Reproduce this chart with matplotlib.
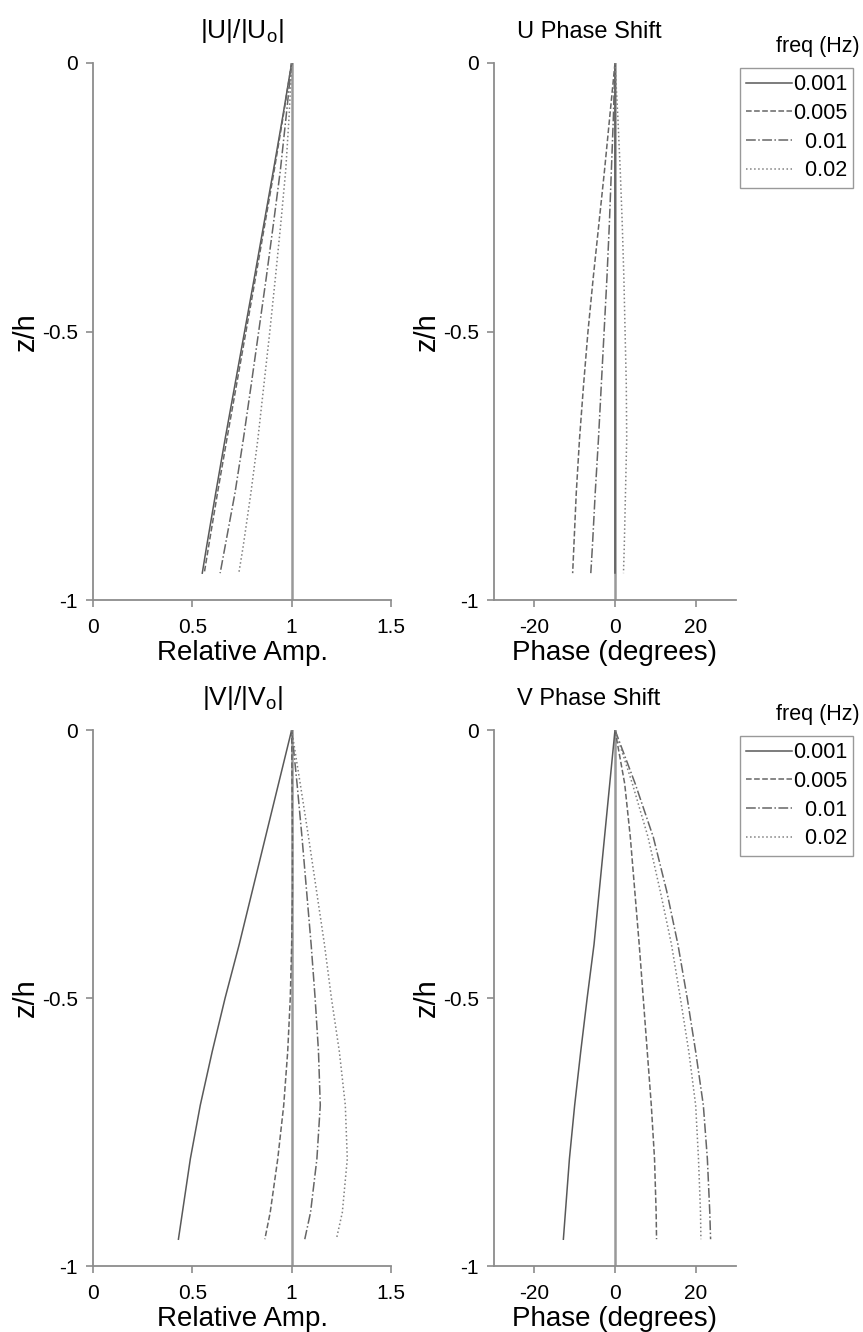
import matplotlib.pyplot as plt

plt.rcParams["font.family"] = ["Liberation Sans", "DejaVu Sans"]
plt.rcParams["mathtext.default"] = "regular"

freqs = ["0.001", "0.005", "0.01", "0.02"]
z_levels = [0.0, -0.1, -0.2, -0.3, -0.4, -0.5, -0.6, -0.7, -0.8, -0.9, -0.95]

# |U|/|Uo|, one row per frequency
u_amp = [
    [1.0, 0.955, 0.908, 0.860, 0.812, 0.763, 0.714, 0.665, 0.618, 0.572, 0.550],
    [1.0, 0.957, 0.912, 0.865, 0.818, 0.770, 0.722, 0.674, 0.627, 0.582, 0.560],
    [1.0, 0.972, 0.943, 0.908, 0.872, 0.834, 0.796, 0.757, 0.715, 0.665, 0.640],
    [1.0, 0.987, 0.970, 0.945, 0.918, 0.890, 0.860, 0.830, 0.795, 0.756, 0.734],
]
# U phase (degrees)
u_phase = [
    [0.0, 0.0, 0.0, 0.0, 0.0, 0.0, 0.0, 0.0, 0.0, 0.0, 0.0],
    [0.0, -1.3, -2.6, -4.0, -5.4, -6.7, -7.8, -8.8, -9.6, -10.2, -10.5],
    [0.0, -0.4, -0.9, -1.4, -2.0, -2.7, -3.4, -4.1, -4.9, -5.6, -6.0],
    [0.0, 0.7, 1.3, 1.8, 2.2, 2.5, 2.8, 2.9, 2.6, 2.3, 2.1],
]
# |V|/|Vo|
v_amp = [
    [1.0, 0.934, 0.868, 0.802, 0.736, 0.665, 0.600, 0.540, 0.490, 0.450, 0.430],
    [1.0, 1.002, 1.004, 1.004, 1.000, 0.993, 0.980, 0.960, 0.930, 0.892, 0.865],
    [1.0, 1.027, 1.052, 1.075, 1.098, 1.118, 1.135, 1.144, 1.127, 1.095, 1.066],
    [1.0, 1.043, 1.085, 1.125, 1.165, 1.200, 1.240, 1.270, 1.280, 1.255, 1.225],
]
# V phase (degrees)
v_phase = [
    [0.0, -1.3, -2.6, -3.9, -5.2, -6.9, -8.5, -10.0, -11.3, -12.3, -12.8],
    [0.0, 2.4, 3.8, 4.9, 6.0, 7.0, 8.0, 9.0, 9.8, 10.2, 10.3],
    [0.0, 5.0, 9.5, 12.8, 15.6, 17.9, 20.0, 21.9, 22.9, 23.5, 23.7],
    [0.0, 4.3, 8.2, 11.2, 14.0, 16.2, 18.3, 20.0, 20.7, 21.2, 21.3],
]

styles = ["-", "--", "-.", ":"]
colors = ["0.35", "0.4", "0.4", "0.5"]
GREY = "0.55"
W, H = 863, 1332


def style_axes(ax, xlim, xticks, xlabels, xlabel):
    ax.set_xlim(xlim)
    ax.set_ylim(-1, 0)
    ax.set_xticks(xticks)
    ax.set_xticklabels(xlabels)
    ax.set_yticks([0, -0.5, -1])
    ax.set_yticklabels(["0", "-0.5", "-1"])
    for side in ["top", "right"]:
        ax.spines[side].set_visible(False)
    for side in ["left", "bottom"]:
        ax.spines[side].set_color(GREY)
        ax.spines[side].set_linewidth(1.3)
    ax.tick_params(direction="out", length=5, width=1.2, color=GREY,
                   labelsize=15, pad=6)
    ax.tick_params(axis="x", pad=8)
    ax.set_xlabel(xlabel, fontsize=20, labelpad=2)
    ax.set_ylabel("z/h", fontsize=21, labelpad=1)


def make_plot(ax, data, ref, title, title_x, title_size):
    ax.plot([ref, ref], [0, -1], color="0.6", lw=1.8, zorder=1)
    lines = []
    for vals, ls, c, lab in zip(data, styles, colors, freqs):
        ln, = ax.plot(vals, z_levels, ls=ls, color=c, lw=1.1,
                      label=lab.rjust(5, "\u2007"), zorder=2)
        lines.append(ln)
    ax.set_title(title, fontsize=title_size, x=title_x, pad=18)
    return lines


def add_legend(fig, lines, top_px):
    fig.text(818 / W, 1 - (top_px - 16) / H, "freq (Hz)", fontsize=15.5,
             ha="center", va="baseline")
    leg = fig.legend(handles=lines, loc="upper left",
                     bbox_to_anchor=(740 / W, 1 - top_px / H),
                     borderaxespad=0, fontsize=15.5, frameon=True,
                     fancybox=False, handlelength=2.1, handletextpad=0.05,
                     labelspacing=0.35, borderpad=0.3)
    leg.get_frame().set_edgecolor("0.5")
    leg.get_frame().set_linewidth(1.0)


def main():
    fig = plt.figure(figsize=(W / 100, H / 100), dpi=100)

    def box(l, r, t, b):
        return [l / W, 1 - b / H, (r - l) / W, (b - t) / H]

    ax1 = fig.add_axes(box(93, 391, 63, 600))
    ax2 = fig.add_axes(box(494, 736, 63, 600))
    ax3 = fig.add_axes(box(93, 391, 730, 1266))
    ax4 = fig.add_axes(box(494, 736, 730, 1266))

    make_plot(ax1, u_amp, 1.0, r"|U|/|U$_o$|", 0.5, 19)
    lines = make_plot(ax2, u_phase, 0.0, "U Phase Shift", 0.393, 17)
    make_plot(ax3, v_amp, 1.0, r"|V|/|V$_o$|", 0.5, 19)
    lines2 = make_plot(ax4, v_phase, 0.0, "V Phase Shift", 0.393, 17)

    amp_ticks = [0, 0.5, 1, 1.5]
    amp_labels = ["0", "0.5", "1", "1.5"]
    ph_ticks = [-20, 0, 20]
    ph_labels = ["-20", "0", "20"]
    style_axes(ax1, (0, 1.5), amp_ticks, amp_labels, "Relative Amp.")
    style_axes(ax2, (-30, 30), ph_ticks, ph_labels, "Phase (degrees)")
    style_axes(ax3, (0, 1.5), amp_ticks, amp_labels, "Relative Amp.")
    style_axes(ax4, (-30, 30), ph_ticks, ph_labels, "Phase (degrees)")

    add_legend(fig, lines, 68)
    add_legend(fig, lines2, 736)

    fig.savefig("out.png", dpi=100)


if __name__ == "__main__":
    main()
